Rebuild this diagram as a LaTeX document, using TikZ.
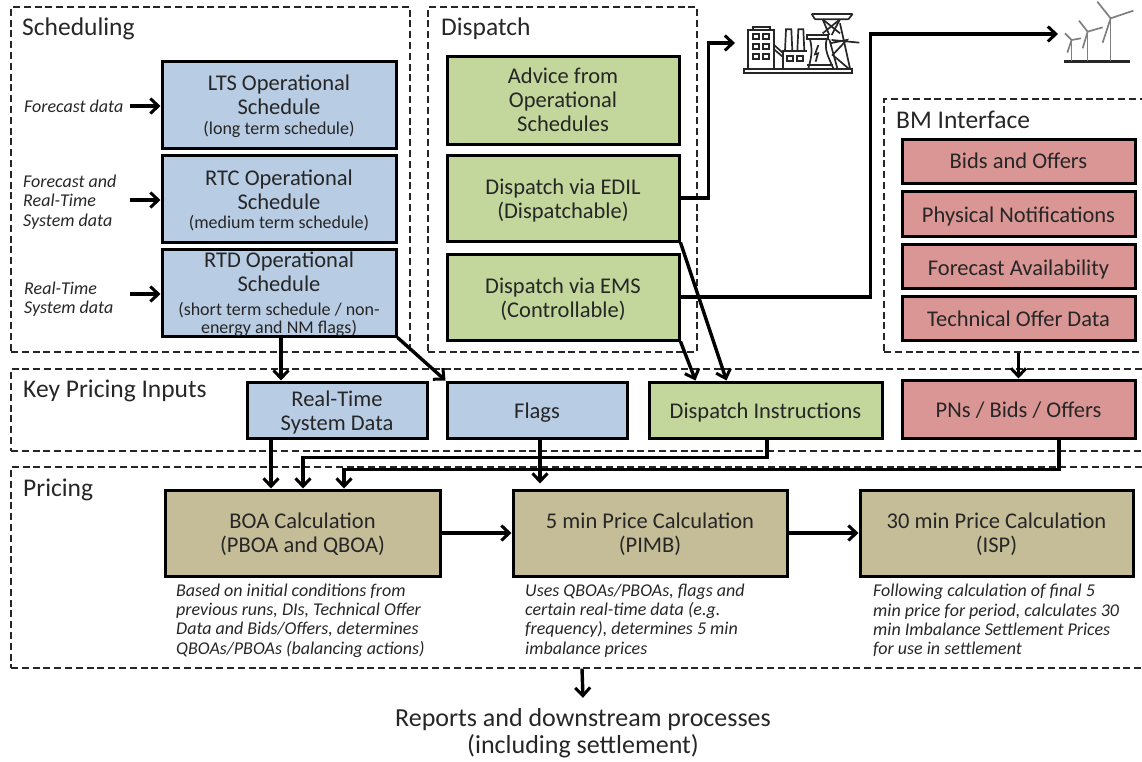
\documentclass[tikz,border=0pt]{standalone}
\usepackage{fontspec}
\setmainfont{Carlito}
\usetikzlibrary{arrows.meta}
\newcommand{\subline}[1]{{\fontsize{18}{20}\selectfont #1}}
\begin{document}
\begin{tikzpicture}[x=1pt,y=-1pt]
        % Define styles
        \tikzset{
            panel/.style={draw, black!85, line width=1.2pt, dash pattern=on 7pt off 3.8pt, inner sep=0pt},
            title/.style={anchor=west, inner sep=0pt, text=black!85, font=\fontsize{25.5}{28}\selectfont},
            box/.style={draw, line width=3pt, align=center, inner sep=0pt, text=black!85, font=\fontsize{22.5}{24}\selectfont, execute at begin node={\rule{0pt}{16pt}}},
            text_down/.style={execute at begin node={\rule{0pt}{#1pt}}},
            blue_box/.style={box, fill=blue_fill},
            green_box/.style={box, fill=green_fill},
            red_box/.style={box, fill=red_fill},
            tan_box/.style={box, fill=tan_fill},
            note/.style={anchor=west, align=left, inner sep=0pt, text=black!85, font=\fontsize{18}{19.3}\selectfont\itshape},
            arrow/.style={-{Straight Barb[length=8pt,width=15pt,line width=3pt]}, line width=3.4pt},
            icon/.style={line width=1.7pt, black!85},
            blade/.style={line width=1.7pt, black!50}
        }
        \definecolor{blue_fill}{HTML}{B8CCE4}
        \definecolor{green_fill}{HTML}{C3D69B}
        \definecolor{red_fill}{HTML}{D99694}
        \definecolor{tan_fill}{HTML}{C4BD97}
        \useasboundingbox (0,0) rectangle (1142,761);

        % Panels
        \node[panel, minimum width=399pt, minimum height=345pt] (sched_panel) at (210.5,179.5) {};
        \node[panel, minimum width=269pt, minimum height=345pt] (disp_panel) at (562.5,179.5) {};
        \node[panel, minimum width=264pt, minimum height=253pt] (bm_panel) at (1016,225.5) {};
        \node[panel, minimum width=1140pt, minimum height=82pt] (key_panel) at (581,410) {};
        \node[panel, minimum width=1140pt, minimum height=201pt] (price_panel) at (581,567.5) {};
        \node[title] (sched_title) at (22,29) {Scheduling};
        \node[title] (disp_title) at (441,29) {Dispatch};
        \node[title] (bm_title) at (896,120) {BM Interface};
        \node[title] (key_title) at (23,391) {Key Pricing Inputs};
        \node[title] (price_title) at (23,490) {Pricing};

        % Scheduling
        \node[note] (lts_data) at (24,106) {Forecast data};
        \node[note] (rtc_data) at (23,202) {Forecast and\\Real-Time\\System data};
        \node[note] (rtd_data) at (24,299.5) {Real-Time\\System data};
        \node[blue_box, text_down=63.5, minimum width=234pt, minimum height=87pt] (lts_node) at (279,104.5) {LTS Operational\\Schedule\\[-4pt]\subline{(long term schedule)}};
        \node[blue_box, text_down=62, minimum width=234pt, minimum height=87pt] (rtc_node) at (279,198.5) {RTC Operational\\Schedule\\[-5pt]\subline{(medium term schedule)}};
        \node[blue_box, text_down=81, minimum width=234pt, minimum height=87pt] (rtd_node) at (279,292.5) {RTD Operational\\Schedule\\\subline{(short term schedule / non-}\\[-6pt]\subline{\smash{energy and NM flags)}}};

        % Dispatch
        \node[green_box, minimum width=232pt, minimum height=88pt] (advice_node) at (563,100) {Advice from\\Operational\\Schedules};
        \node[green_box, text_down=45, minimum width=232pt, minimum height=86pt] (edil_node) at (563,198) {Dispatch via EDIL\\(Dispatchable)};
        \node[green_box, text_down=45, minimum width=232pt, minimum height=86pt] (ems_node) at (563,297) {Dispatch via EMS\\(Controllable)};

        % BM interface
        \node[red_box, minimum width=233pt, minimum height=44pt] (bids_node) at (1018.5,161) {Bids and Offers};
        \node[red_box, text_down=22.5, minimum width=233pt, minimum height=45pt] (pn_node) at (1018.5,213.5) {Physical Notifications};
        \node[red_box, text_down=22.5, minimum width=233pt, minimum height=44pt] (avail_node) at (1018.5,266) {Forecast Availability};
        \node[red_box, text_down=18, minimum width=233pt, minimum height=44pt] (tech_node) at (1018.5,318) {Technical Offer Data};

        % Key pricing inputs
        \node[blue_box, text_down=45, minimum width=180pt, minimum height=56pt] (rtdata_node) at (337,410) {Real-Time\\System Data};
        \node[blue_box, text_down=20, minimum width=180pt, minimum height=56pt] (flags_node) at (537,410) {Flags};
        \node[green_box, text_down=20, minimum width=233pt, minimum height=56pt] (di_node) at (765.5,410) {Dispatch Instructions};
        \node[red_box, text_down=18, minimum width=233pt, minimum height=58pt] (pns_node) at (1018.5,409) {PNs / Bids / Offers};

        % Pricing
        \node[tan_box, text_down=43, minimum width=275pt, minimum height=86pt] (boa_node) at (302.5,533) {BOA Calculation\\(PBOA and QBOA)};
        \node[tan_box, text_down=43, minimum width=274pt, minimum height=86pt] (min5_node) at (650,533) {5 min Price Calculation\\(PIMB)};
        \node[tan_box, text_down=43, minimum width=273pt, minimum height=86pt] (min30_node) at (996.5,533) {30 min Price Calculation\\(ISP)};
        \node[note] (boa_note) at (176,620.5) {Based on initial conditions from\\previous runs, DIs, Technical Offer\\Data and Bids/Offers, determines\\QBOAs/PBOAs (balancing actions)};
        \node[note] (min5_note) at (525,620.5) {Uses QBOAs/PBOAs, flags and\\certain real-time data (e.g.\\frequency), determines 5 min\\imbalance prices};
        \node[note] (min30_note) at (873,620.5) {Following calculation of final 5\\min price for period, calculates 30\\min Imbalance Settlement Prices\\for use in settlement};
        \node[align=center, inner sep=0pt, text=black!85, font=\fontsize{26}{27.5}\selectfont] (reports_node) at (583,733) {Reports and downstream processes\\(including settlement)};

        % Icons
        \coordinate (plant_in) at (735,43);
        \coordinate (wind_in) at (1058,34);
        \begin{scope}[shift={(700,0)},x=0.3333pt,y=-0.3333pt]
            % power plant
            \draw[icon] (132,207) rectangle (455,220);
            \draw[icon] (143,205) -- (143,90) -- (222,90) -- (222,205);
            \draw[icon] (158,90) -- (158,80) -- (210,80) -- (210,90);
            \foreach \px in {160,190} \foreach \py in {103,133,163}
                \draw[icon] (\px,\py) rectangle +(17,14);
            \draw[icon] (222,135) -- (248,158) (222,148) -- (248,170);
            \draw[icon] (248,205) -- (248,153) -- (322,153);
            \draw[icon] (255,153) -- (258,88) -- (274,88) -- (277,153);
            \draw[icon] (292,153) -- (295,88) -- (310,88) -- (313,153);
            \draw[icon] (262,168) rectangle +(16,14) (292,168) rectangle +(16,14);
            \draw[icon] (322,105) rectangle (385,118);
            \draw[icon] (330,118) .. controls (338,150) and (335,170) .. (325,205);
            \draw[icon] (380,118) .. controls (372,150) and (385,170) .. (400,205);
            \draw[icon] (322,195) -- (400,195);
            \draw[icon] (355,135) -- (345,163) -- (354,160) -- (347,185);
            \draw[icon] (335,42) -- (458,42) (345,58) -- (445,58) (335,42) -- (345,58) (458,42) -- (445,58);
            \draw[icon] (368,58) -- (388,105) (420,58) -- (395,105) (368,58) -- (420,100) (420,58) -- (368,100);
            \draw[icon] (388,118) -- (412,205) (420,70) -- (450,205);
            \draw[icon] (395,120) -- (478,128) (390,130) -- (440,120) -- (398,165) -- (445,205);
            % wind turbines
            \draw[line width=2.4pt, black!85] (1092,184) -- (1290,184);
            \draw[blade] (1115,183) -- (1115,120) (1163,183) -- (1163,95) (1232,183) -- (1232,55);
            \draw[blade] (1095,100) -- (1115,120) -- (1143,115) (1115,120) -- (1102,158);
            \draw[blade] (1137,62) -- (1163,95) -- (1208,82) (1163,95) -- (1148,145);
            \draw[blade] (1192,5) -- (1232,55) -- (1300,32) (1232,55) -- (1208,128);
        \end{scope}

        % Arrows
        \draw[arrow] (130,106) -- (lts_node.west |- 130,106);
        \draw[arrow] (130,200) -- (rtc_node.west |- 130,200);
        \draw[arrow] (130,294) -- (rtd_node.west |- 130,294);
        \draw[arrow] ([xshift=2pt]rtd_node.south) -- ([xshift=-56pt]rtdata_node.north);
        \draw[arrow] (rtd_node.south east) -- (flags_node.north west);
        \draw[arrow] (edil_node.east) -- ++(28,0) |- (plant_in);
        \draw[arrow] (ems_node.east) -- ++(190,0) |- (wind_in);
        \draw[arrow] (edil_node.south east) -- ([xshift=-39pt]di_node.north);
        \draw[arrow] (ems_node.south east) -- ([xshift=-70pt]di_node.north);
        \draw[arrow] (bm_panel.south -| pns_node) -- (pns_node.north);
        \draw[arrow] ([xshift=-66pt]rtdata_node.south) -- ([xshift=-31.5pt]boa_node.north);
        \draw[arrow] (di_node.south) ++(1.5,0) -- ++(0,18) -| ([xshift=0.5pt]boa_node.north);
        \draw[arrow] (pns_node.south) ++(40.5,0) -- ++(0,30) -| ([xshift=41.5pt]boa_node.north);
        \draw[arrow] ([xshift=3pt]flags_node.south) -- ([xshift=-110pt,yshift=5pt]min5_node.north);
        \draw[arrow] (boa_node.east) -- (min5_node.west);
        \draw[arrow] (min5_node.east) -- (min30_node.west);
        \draw[arrow] ([xshift=1pt]price_panel.south) -- ([yshift=10pt]reports_node.north);
\end{tikzpicture}
\end{document}
